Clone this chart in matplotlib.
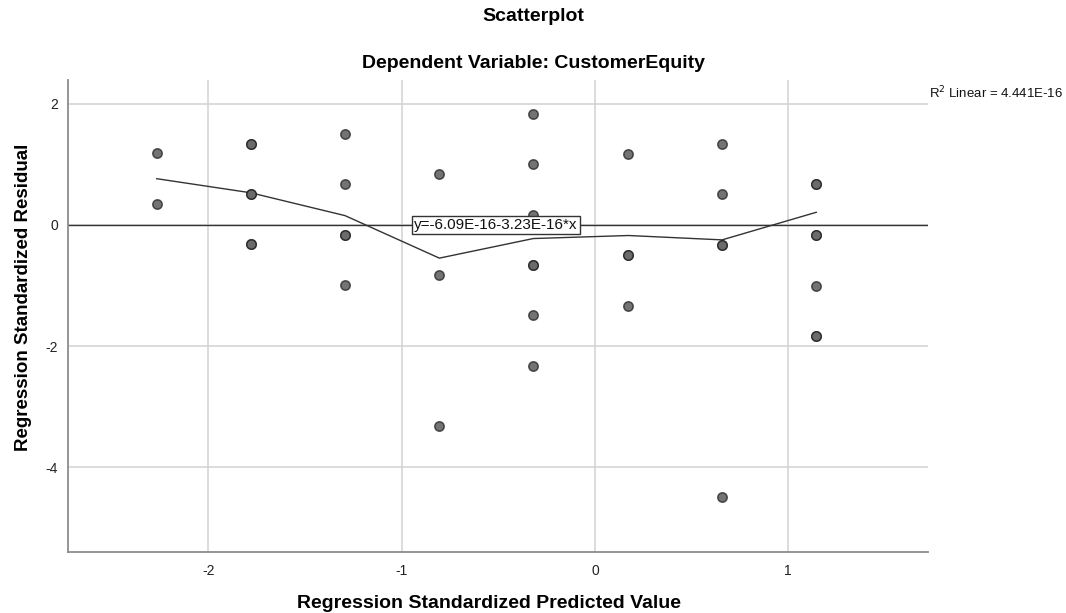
import matplotlib
matplotlib.use("Agg")
import matplotlib.pyplot as plt

plt.rcParams['font.family'] = ['Liberation Sans', 'DejaVu Sans']

# Standardized predicted values (x) and residuals (y); repeated entries are overlapping cases
pred = [-2.267, -2.267,
        -1.781, -1.781, -1.781, -1.781, -1.781, -1.781,
        -1.293, -1.293, -1.293, -1.293, -1.293,
        -0.805, -0.805, -0.805,
        -0.319, -0.319, -0.319, -0.319, -0.319, -0.319, -0.319,
        0.173, 0.173, 0.173, 0.173,
        0.658, 0.658, 0.658, 0.658, 0.658,
        1.145, 1.145, 1.145, 1.145, 1.145, 1.145, 1.145]
resid = [1.178, 0.345,
         1.342, 1.342, 0.510, 0.510, -0.323, -0.323,
         1.507, 0.674, -0.159, -0.159, -0.992,
         0.838, -0.827, -3.325,
         1.836, 1.003, 0.170, -0.660, -0.660, -1.493, -2.325,
         1.170, -0.495, -0.495, -1.330,
         1.342, 0.504, -0.330, -0.330, -4.495,
         0.674, 0.674, -0.160, -0.160, -1.000, -1.830, -1.830]

# Smoothed fit through the column means
fit_x = [-2.267, -1.781, -1.293, -0.805, -0.319, 0.173, 0.658, 1.145]
fit_y = [0.762, 0.530, 0.153, -0.548, -0.225, -0.175, -0.247, 0.208]

# Linear fit
intercept = -6.09e-16
slope = -3.23e-16
r2_text = "R$^2$ Linear = 4.441E-16"
eq_text = "y=-6.09E-16-3.23E-16*x"

x_ticks = [-2, -1, 0, 1]
y_ticks = [2, 0, -2, -4]

fig = plt.figure(figsize=(10.66, 6.13), dpi=100)
ax = fig.add_axes([0.0635, 0.100, 0.807, 0.7695])

ax.set_xlim(-2.728, 1.723)
ax.set_ylim(-5.39, 2.39)

ax.set_xticks(x_ticks)
ax.set_yticks(y_ticks)
ax.set_xticklabels([str(t) for t in x_ticks])
ax.set_yticklabels([str(t) for t in y_ticks])
ax.tick_params(axis='both', length=0, labelsize=10, colors='#222222')
ax.tick_params(axis='x', pad=9)
ax.tick_params(axis='y', pad=7)

ax.grid(True, color='#d2d2d2', linewidth=1.1, zorder=0)
ax.set_axisbelow(True)
for side in ('top', 'right'):
    ax.spines[side].set_visible(False)
for side in ('left', 'bottom'):
    ax.spines[side].set_color('#8c8c8c')
    ax.spines[side].set_linewidth(1.3)

# Linear fit line across the full x range
xl = ax.get_xlim()
ax.plot(xl, [intercept + slope * xl[0], intercept + slope * xl[1]],
        color='#333333', linewidth=1.0, zorder=2)

# Smoothed line
ax.plot(fit_x, fit_y, color='#333333', linewidth=1.0, zorder=2)

# Points
ax.scatter(pred, resid, s=46, facecolor=(0.42, 0.42, 0.42, 0.95),
           edgecolor=(0.1, 0.1, 0.1, 0.7), linewidth=1.1, zorder=3)

# Equation label sitting on the linear fit line
ax.text(-0.935, 0.0, eq_text, fontsize=11, color='#111111', va='center', ha='left',
        zorder=5,
        bbox=dict(boxstyle='square,pad=0.12', facecolor='white', edgecolor='#333333',
                  linewidth=1.0))

fig.text(0.8715, 0.848, r2_text, fontsize=9.5, ha='left', va='center', color='#111111')

fig.text(0.5, 0.973, "Scatterplot", fontsize=14, fontweight='bold', ha='center', va='center')
fig.text(0.5, 0.897, "Dependent Variable: CustomerEquity", fontsize=14, fontweight='bold',
         ha='center', va='center')

fig.text(0.459, 0.016, "Regression Standardized Predicted Value", fontsize=14,
         fontweight='bold', ha='center', va='center')
fig.text(0.022, 0.515, "Regression Standardized Residual", fontsize=13.5,
         fontweight='bold', ha='center', va='center', rotation=90)

fig.savefig("out.png", dpi=100)
